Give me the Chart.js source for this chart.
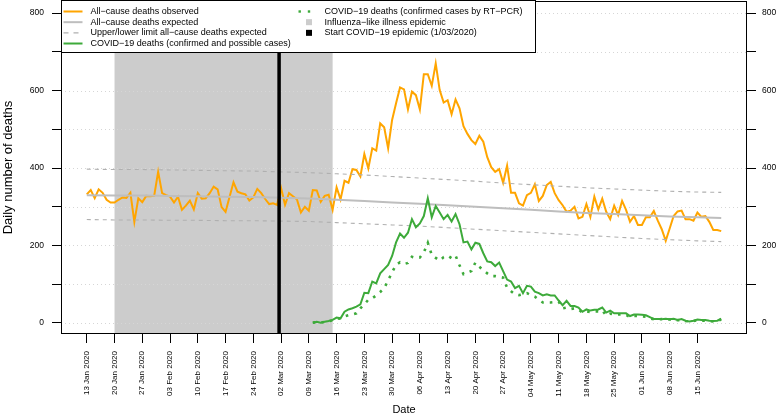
<!DOCTYPE html>
<html><head><meta charset="utf-8">
<script src="https://cdn.jsdelivr.net/npm/chart.js@4.4.1/dist/chart.umd.min.js"></script>
<style>html,body{margin:0;padding:0;background:#fff;overflow:hidden}</style>
</head><body>
<canvas id="c" width="778" height="414"></canvas>
<script>
// ---- data (day index 0 = 13 Jan 2020) ----
const observed = [
332,343,322,345,336,318,311,311,318,324,
323,336,261,322,312,328,327,328,390,335,
330,326,311,326,292,303,316,293,335,321,
322,335,352,345,299,287,325,363,339,335,
332,316,324,346,335,320,307,309,305,348,
305,335,327,319,285,300,290,343,342,313,
328,331,292,350,319,367,362,397,395,378,
436,399,451,445,515,505,451,524,567,608,
603,551,597,588,551,642,642,612,670,601,
569,575,539,577,554,508,488,472,462,483,
468,428,402,390,397,362,406,336,336,309,
303,330,336,358,315,328,356,364,335,317,
304,287,290,300,270,274,307,274,326,293,
321,287,268,303,279,315,292,261,276,253,
253,273,273,289,264,242,212,244,276,288,
290,268,268,264,285,274,276,261,240,240,
237];
const covidFirstDay = 57; // 10 Mar 2020
const covidAll = [
1,3,1,3,5,8,14,12,29,35,
38,42,48,78,77,107,102,128,139,150,
173,208,231,220,233,268,247,257,276,322,
273,302,285,268,279,262,281,255,208,210,
190,207,204,180,159,157,147,156,134,112,
107,90,96,77,96,94,81,77,71,74,
71,71,58,46,57,44,44,40,29,35,
32,34,35,40,27,32,25,25,25,25,
18,22,22,21,20,15,10,10,10,11,
10,11,8,10,6,4,6,9,8,8,
6,5,6,11];
const covidPCR = [
1,2,1,3,4,7,12,11,17,20,
22,25,38,48,60,64,71,80,90,110,
131,150,157,152,155,171,168,169,182,207,
176,168,161,170,174,167,174,149,126,130,
134,156,145,136,128,121,121,119,117,91,
82,74,72,74,77,72,68,60,53,53,
53,54,55,38,40,36,38,35,27,30,
28,30,30,33,19,24,22,22,22,21,
15,18,18,17,16,12,10,9,10,10,
9,10,7,8,5,4,5,7,6,6,
5,4,5,9];
const expectedDays = [0,7,14,21,28,35,42,49,56,63,70,77,84,91,98,105,112,119,126,133,140,147,154,160];
const expected   = [330,329,329,328,327,326,325,323,321,318,315,311,308,304,300,296,292,288,284,281,278,275,273,271];
const upperLimit = [397,396,396,395,394,393,392,390,388,385,382,378,374,370,366,361,357,353,349,346,343,340,338,337];
const lowerLimit = [267,266,266,265,265,264,264,263,262,259,256,253,250,246,242,238,234,230,226,222,218,215,212,210];
const xTickDays = [0,7,14,21,28,35,42,49,56,63,70,77,84,91,98,105,112,119,126,133,140,147,154];
const xTickLabels = ['13 Jan 2020','20 Jan 2020','27 Jan 2020','03 Feb 2020','10 Feb 2020','17 Feb 2020','24 Feb 2020',
 '02 Mar 2020','09 Mar 2020','16 Mar 2020','23 Mar 2020','30 Mar 2020','06 Apr 2020','13 Apr 2020','20 Apr 2020',
 '27 Apr 2020','04 May 2020','11 May 2020','18 May 2020','25 May 2020','01 Jun 2020','08 Jun 2020','15 Jun 2020'];
const yTickValues = [0,100,200,300,400,500,600,700,800];
const fluPeriod = [7, 62];      // 20 Jan 2020 – 15 Mar 2020
const epidemicStart = 48.5;     // start COVID-19 epidemic (1/03/2020)

const C_OBS = '#FFA500', C_EXP = '#BEBEBE', C_LIM = '#B0B0B0', C_COV = '#3DAA3A', C_SHADE = '#CCCCCC';
const FONT = "'Liberation Sans', Arial, sans-serif";

const legendItems = [
  {col:0,row:0,type:'line',color:C_OBS,text:'All\u2212cause deaths observed'},
  {col:0,row:1,type:'line',color:C_EXP,text:'All\u2212cause deaths expected'},
  {col:0,row:2,type:'dash',color:C_LIM,text:'Upper/lower limit all\u2212cause deaths expected'},
  {col:0,row:3,type:'line',color:C_COV,text:'COVID\u221219 deaths (confirmed and possible cases)'},
  {col:1,row:0,type:'dots',color:C_COV,text:'COVID\u221219 deaths (confirmed cases by RT\u2212PCR)'},
  {col:1,row:1,type:'square',color:C_SHADE,text:'Influenza\u2212like illness epidemic'},
  {col:1,row:2,type:'square',color:'#000000',text:'Start COVID\u221219 epidemic (1/03/2020)'}
];

const pts = (xs, ys) => ys.map((v,i)=>({x:xs[i], y:v}));
const seq = (start, arr) => arr.map((v,i)=>({x:start+i, y:v}));

const decor = {
  id:'decor',
  beforeDatasetsDraw(chart){
    const {ctx, chartArea:a, scales:{x,y}} = chart;
    ctx.save();
    ctx.fillStyle = C_SHADE;
    const x0 = x.getPixelForValue(fluPeriod[0]), x1 = x.getPixelForValue(fluPeriod[1]);
    ctx.fillRect(x0, a.top, x1-x0, a.bottom-a.top);
    ctx.strokeStyle = '#D6D6D6'; ctx.lineWidth = 1; ctx.setLineDash([1,3]);
    yTickValues.forEach(v=>{
      const py = Math.round(y.getPixelForValue(v))+0.5;
      ctx.beginPath(); ctx.moveTo(a.left, py); ctx.lineTo(a.right, py); ctx.stroke();
    });
    ctx.restore();
  },
  afterDatasetsDraw(chart){
    const {ctx, chartArea:a, scales:{x}} = chart;
    ctx.save();
    const ex = x.getPixelForValue(epidemicStart);
    ctx.strokeStyle = '#000'; ctx.lineWidth = 3.5;
    ctx.beginPath(); ctx.moveTo(ex, a.top); ctx.lineTo(ex, a.bottom); ctx.stroke();
    // frame
    ctx.lineWidth = 1; ctx.strokeStyle = '#000';
    ctx.strokeRect(a.left+0.5, a.top+0.5, a.right-a.left-1, a.bottom-a.top-1);
    // legend
    const L = a.left+0.5, T = a.top-0.5, W = 474, H = 52;
    ctx.fillStyle = '#fff'; ctx.fillRect(L, T, W, H);
    ctx.strokeRect(L, T, W, H);
    ctx.font = '9px ' + FONT; ctx.textBaseline = 'middle'; ctx.textAlign = 'left';
    legendItems.forEach(it=>{
      const cy = T + 11 + it.row*10.67;
      const sx = it.col===0 ? L+2 : L+238;
      const tx = it.col===0 ? L+29 : L+263;
      ctx.save();
      if (it.type==='line' || it.type==='dash'){
        ctx.strokeStyle = it.color; ctx.lineWidth = it.type==='line'?2:1.2;
        ctx.setLineDash(it.type==='dash'?[5,5]:[]);
        ctx.beginPath(); ctx.moveTo(sx, cy); ctx.lineTo(sx+19, cy); ctx.stroke();
      } else if (it.type==='dots'){
        ctx.fillStyle = it.color;
        ctx.fillRect(sx-1, cy-1.2, 2.4, 2.4); ctx.fillRect(sx+8.3, cy-1.2, 2.4, 2.4);
      } else {
        ctx.fillStyle = it.color; ctx.fillRect(sx+6.5, cy-3, 6, 6);
      }
      ctx.restore();
      ctx.fillStyle = '#000';
      ctx.fillText(it.text, tx, cy);
    });
    ctx.restore();
  }
};

const yCommon = {
  type:'linear', min:-28.4, max:831,
  afterBuildTicks(s){ s.ticks = yTickValues.map(v=>({value:v})); },
  grid:{drawOnChartArea:false, drawTicks:true, tickLength:9, tickColor:'#000', tickWidth:1, tickBorderDash:[]},
  border:{display:false}
};

new Chart(document.getElementById('c'), {
  type:'line',
  data:{datasets:[
    {label:'COVID-19 deaths (confirmed and possible cases)', data:seq(covidFirstDay, covidAll), borderColor:C_COV, borderWidth:2, pointRadius:0, order:0},
    {label:'COVID-19 deaths (confirmed cases by RT-PCR)', data:seq(covidFirstDay, covidPCR), borderColor:C_COV, borderWidth:2.6, borderDash:[2.6,6], pointRadius:0, order:1},
    {label:'All-cause deaths expected', data:pts(expectedDays, expected), borderColor:C_EXP, borderWidth:2, pointRadius:0, order:2},
    {label:'Upper limit', data:pts(expectedDays, upperLimit), borderColor:C_LIM, borderWidth:1.1, borderDash:[4,4], pointRadius:0, order:3},
    {label:'Lower limit', data:pts(expectedDays, lowerLimit), borderColor:C_LIM, borderWidth:1.1, borderDash:[4,4], pointRadius:0, order:4},
    {label:'All-cause deaths observed', data:seq(0, observed), borderColor:C_OBS, borderWidth:2, pointRadius:0, order:5}
  ]},
  options:{
    responsive:false, animation:false, devicePixelRatio:1,
    layout:{padding:{top:1,left:0,right:0,bottom:0}},
    plugins:{legend:{display:false}, tooltip:{enabled:false}},
    elements:{line:{tension:0, fill:false}},
    scales:{
      x:{type:'linear', min:-6.5, max:166.5,
        afterBuildTicks(s){ s.ticks = xTickDays.map(v=>({value:v})); },
        afterFit(s){ s.height = 80; s.paddingLeft = 0; s.paddingRight = 0; },
        ticks:{autoSkip:false, minRotation:90, maxRotation:90, padding:8, color:'#000', font:{family:FONT,size:8},
          callback:(v)=>{ const i = xTickDays.indexOf(v); return i>=0 ? xTickLabels[i] : ''; }},
        grid:{drawOnChartArea:false, drawTicks:true, tickLength:9, tickColor:'#000', tickWidth:1, tickBorderDash:[]},
        border:{display:false},
        title:{display:true, text:'Date', color:'#000', font:{family:FONT,size:11,lineHeight:0.8}, padding:0}
      },
      y:Object.assign({}, yCommon, {position:'left',
        afterFit(s){ s.width = 61; s.paddingTop = 0; s.paddingBottom = 0; },
        ticks:{padding:8, color:'#000', font:{family:FONT,size:8.5}, callback:(v)=> v%200===0 ? String(v) : ''},
        title:{display:true, text:'Daily number of deaths', color:'#000', font:{family:FONT,size:13,lineHeight:1.2}, padding:{top:0.5,bottom:0}}
      }),
      y2:Object.assign({}, yCommon, {position:'right',
        afterFit(s){ s.width = 31; s.paddingTop = 0; s.paddingBottom = 0; },
        ticks:{padding:6, color:'#000', font:{family:FONT,size:8.5}, callback:(v)=> v%200===0 ? String(v) : ''}
      })
    }
  },
  plugins:[decor]
});
</script>
</body></html>
